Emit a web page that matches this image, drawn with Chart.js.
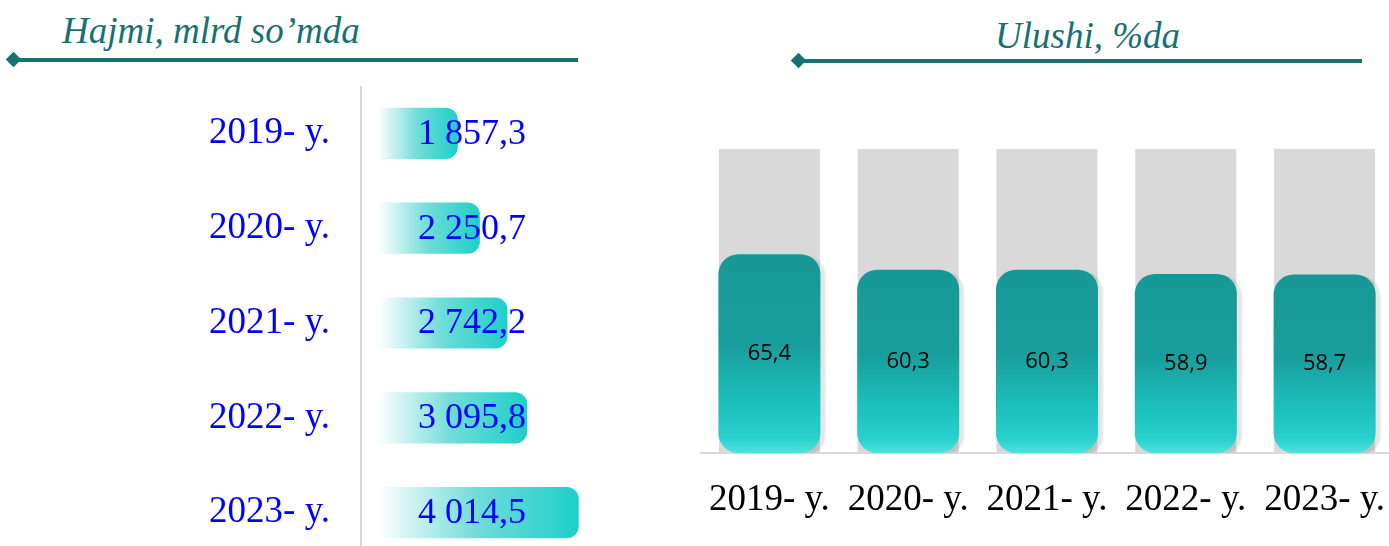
<!DOCTYPE html>
<html>
<head>
<meta charset="utf-8">
<script src="https://cdn.jsdelivr.net/npm/chart.js@4/dist/chart.umd.min.js"></script>
<style>
  html, body { margin: 0; padding: 0; overflow: hidden; background: #fff; }
  body { position: relative; width: 1389px; height: 546px; }
  .title { position: absolute; font-family: 'Liberation Serif', serif; font-style: italic;
           font-size: 37px; line-height: 37px; color: #17716f; white-space: nowrap; }
  .rule { position: absolute; height: 4px; background: #167270; }
  .diamond { position: absolute; width: 11px; height: 11px; background: #167270; transform: rotate(45deg); }
  canvas { position: absolute; }
</style>
</head>
<body>
<div class="title" style="left:62px; top:12px;">Hajmi, mlrd so’mda</div>
<div class="rule" style="left:14px; top:58px; width:564px;"></div>
<div class="diamond" style="left:8px; top:54px;"></div>

<div class="title" style="left:995px; top:17px;">Ulushi, %da</div>
<div class="rule" style="left:799px; top:59px; width:563px;"></div>
<div class="diamond" style="left:793px; top:55px;"></div>

<canvas id="volume-chart" width="690" height="474" style="left:0; top:86px;"></canvas>
<canvas id="share-chart" width="694" height="546" style="left:700px; top:0;"></canvas>

<script>
const years = ['2019- y.', '2020- y.', '2021- y.', '2022- y.', '2023- y.'];
const volume = [1857.3, 2250.7, 2742.2, 3095.8, 4014.5];   // mlrd so'm
const share = [65.4, 60.3, 60.3, 58.9, 58.7];              // %
const shareTrack = [100, 100, 100, 100, 100];

// number like "1 857,3"
function fmt(v) {
  const [i, d] = v.toFixed(1).split('.');
  return i.replace(/\B(?=(\d{3})+(?!\d))/g, ' ') + ',' + d;
}

const volumeBase = 430;

const volumeLabels = {
  id: 'volumeLabels',
  afterDatasetsDraw(chart) {
    const ctx = chart.ctx;
    const x = chart.scales.x.getPixelForValue(2110);
    ctx.save();
    ctx.font = '36px "Liberation Serif"';
    ctx.fillStyle = '#0000ff';
    ctx.textAlign = 'center';
    ctx.textBaseline = 'middle';
    chart.getDatasetMeta(0).data.forEach((bar, i) => {
      ctx.fillText(fmt(volume[i]), x, bar.y + 1);
    });
    ctx.restore();
  }
};

new Chart(document.getElementById('volume-chart'), {
  type: 'bar',
  data: {
    labels: years,
    datasets: [{
      data: volume,
      base: volumeBase,
      backgroundColor: (c) => {
        const chart = c.chart;
        if (!chart.chartArea || !chart.scales.x) return '#22cfca';
        const xs = chart.scales.x;
        const x0 = xs.getPixelForValue(volumeBase);
        const x1 = xs.getPixelForValue(volume[c.dataIndex]);
        const g = chart.ctx.createLinearGradient(x0, 0, x1, 0);
        g.addColorStop(0, 'rgba(255,255,255,1)');
        g.addColorStop(0.5, '#6edcd7');
        g.addColorStop(1, '#1ecfc9');
        return g;
      },
      borderRadius: 12,
      borderSkipped: 'start',
      barPercentage: 0.54,
      categoryPercentage: 1
    }]
  },
  options: {
    indexAxis: 'y',
    responsive: false,
    animation: false,
    layout: { padding: 0 },
    plugins: { legend: { display: false }, tooltip: { enabled: false } },
    scales: {
      x: { display: false, min: 130, max: 6000 },
      y: {
        afterFit: (s) => { s.width = 361; s.paddingTop = 0; s.paddingBottom = 0; },
        grid: { display: false, drawTicks: false },
        border: { color: '#d9d9d9', width: 2 },
        ticks: { color: '#0000ff', font: { family: 'Liberation Serif', size: 37 }, padding: 31 }
      }
    }
  },
  plugins: [volumeLabels]
});

const shareExtras = {
  id: 'shareExtras',
  beforeDatasetDraw(chart, args) {
    if (args.index !== 0) return;
    const ctx = chart.ctx;
    ctx.save();
    ctx.shadowColor = 'rgba(0,0,0,0.10)';
    ctx.shadowOffsetX = 5;
    ctx.shadowOffsetY = 2;
    ctx.shadowBlur = 2;
  },
  afterDatasetDraw(chart, args) {
    if (args.index !== 0) return;
    chart.ctx.restore();
  },
  afterDatasetsDraw(chart) {
    const ctx = chart.ctx;
    ctx.save();
    ctx.font = '22px "Open Sans"';
    ctx.fillStyle = '#000';
    ctx.textAlign = 'center';
    ctx.textBaseline = 'middle';
    chart.getDatasetMeta(0).data.forEach((bar, i) => {
      ctx.fillText(share[i].toFixed(1).replace('.', ','), bar.x, (bar.y + bar.base) / 2);
    });
    ctx.restore();
  }
};

new Chart(document.getElementById('share-chart'), {
  type: 'bar',
  data: {
    labels: years,
    datasets: [{
      data: share,
      order: 1,
      grouped: false,
      backgroundColor: (c) => {
        const chart = c.chart;
        if (!chart.chartArea || !chart.scales.y) return '#179b99';
        const ys = chart.scales.y;
        const y0 = ys.getPixelForValue(share[c.dataIndex]);
        const y1 = ys.getPixelForValue(0);
        const g = chart.ctx.createLinearGradient(0, y0, 0, y1);
        g.addColorStop(0, '#179896');
        g.addColorStop(0.45, '#189e9c');
        g.addColorStop(0.75, '#1cc0bd');
        g.addColorStop(0.92, '#28d0cc');
        g.addColorStop(1, '#4fe3de');
        return g;
      },
      borderRadius: 20,
      borderSkipped: false,
      barPercentage: 0.735,
      categoryPercentage: 1
    }, {
      data: shareTrack,
      order: 2,
      grouped: false,
      backgroundColor: '#d9d9d9',
      borderRadius: 0,
      barPercentage: 0.728,
      categoryPercentage: 1
    }]
  },
  options: {
    responsive: false,
    animation: false,
    layout: { padding: { top: 149, left: 0, right: 0, bottom: 0 } },
    plugins: { legend: { display: false }, tooltip: { enabled: false } },
    scales: {
      y: { display: false, min: 0, max: 100 },
      x: {
        afterFit: (s) => { s.height = 93; s.paddingLeft = 0; s.paddingRight = 0; },
        grid: { display: false, drawTicks: false },
        border: { color: '#d9d9d9', width: 2 },
        ticks: { color: '#000', font: { family: 'Liberation Serif', size: 37 }, padding: 25,
                 autoSkip: false, maxRotation: 0 }
      }
    }
  },
  plugins: [shareExtras]
});
</script>
</body>
</html>
